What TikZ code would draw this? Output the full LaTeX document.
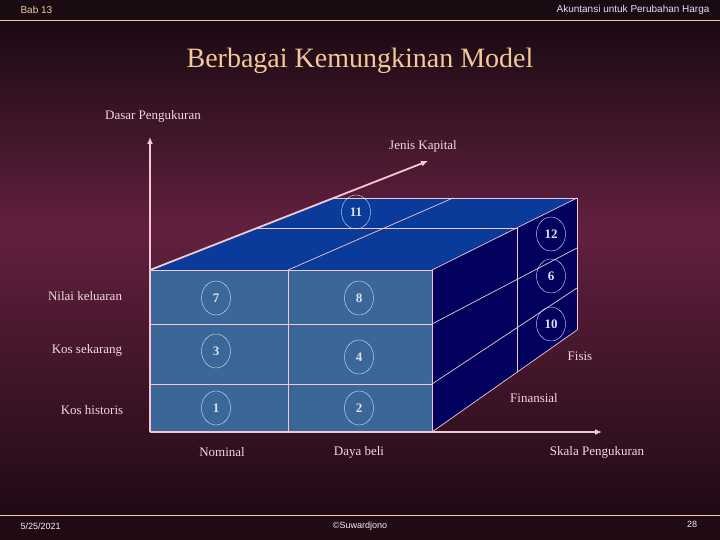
\documentclass[tikz,border=0pt]{standalone}
\usepackage{fontspec}
\setmainfont{Liberation Serif}
\newfontfamily\hdr{Liberation Sans}
\usetikzlibrary{arrows.meta,shapes.geometric}
\definecolor{bgA}{HTML}{1A0A12}
\definecolor{bgB}{HTML}{62203F}
\definecolor{bgC}{HTML}{200A14}
\definecolor{pinkline}{HTML}{F4C8D0}
\definecolor{frontc}{HTML}{3A6797}
\definecolor{topc}{HTML}{0A3A9A}
\definecolor{sidec}{HTML}{02025E}
\definecolor{orangec}{HTML}{F2C99A}
\definecolor{txt}{HTML}{F4D8DE}
\definecolor{celltxt}{HTML}{D8E2F4}
\begin{document}
\begin{tikzpicture}[x=1pt,y=-1pt,
  lab/.style={text=txt,font=\fontsize{13}{15}\selectfont,inner sep=0pt},
  num/.style={draw=celltxt,text=celltxt,ellipse,minimum width=29pt,minimum height=34pt,inner sep=0pt,font=\fontsize{13}{15}\selectfont\bfseries},
  grid/.style={draw=pinkline,line width=0.7pt},
  axis/.style={draw=pinkline,line width=1.8pt,-{Latex[length=7pt,width=6pt]}}]
\useasboundingbox (0,0) rectangle (720,540);
\fill[bgA] (0,0) rectangle (720,20);
\shade[top color=bgA,bottom color=bgB] (0,20) rectangle (720,230);
\shade[top color=bgB,bottom color=bgC] (0,230) rectangle (720,515);
\fill[bgC] (0,515) rectangle (720,540);
\draw[orangec,line width=1.5pt] (0,20.5) -- (720,20.5);
\draw[orangec,line width=1.5pt] (0,515.5) -- (720,515.5);
\node[text=orangec,font=\hdr\fontsize{10}{12}\selectfont,anchor=west] (bab) at (17,10) {Bab 13};
\node[text=white!88!blue,font=\hdr\fontsize{10}{12}\selectfont,anchor=east] (akt) at (713,10) {Akuntansi untuk Perubahan Harga};
\node[text=white!90!gray,font=\hdr\fontsize{9}{11}\selectfont,anchor=west] (date) at (17,526) {5/25/2021};
\node[text=white!90!gray,font=\hdr\fontsize{9}{11}\selectfont] (cp) at (360,526) {©Suwardjono};
\node[text=white!90!gray,font=\hdr\fontsize{9}{11}\selectfont] (pg) at (692,524) {28};
\node[text=orangec,font=\fontsize{28}{32}\selectfont] (title) at (360,61) {Berbagai Kemungkinan Model};
% cube
\fill[topc] (150,270) -- (432,270) -- (577,198) -- (334,198) -- cycle;
\fill[sidec] (432,270) -- (577,198) -- (577,330) -- (432,432) -- cycle;
\fill[frontc] (150,270) rectangle (432,432);
\draw[grid] (150,324) -- (432,324) (150,384) -- (432,384) (288,270) -- (288,432);
\draw[grid] (150,270) -- (432,270) -- (432,432);
\draw[grid] (334,198) -- (577,198) -- (577,330);
\draw[grid] (257,228) -- (517,228) -- (517,372);
\draw[grid] (288,270) -- (453,198);
\draw[grid] (432,270) -- (577,198) (432,324) -- (577,248) (432,384) -- (577,288) (432,432) -- (577,330);
% axes
\coordinate (o) at (150,432);
\coordinate (oc) at (150,270);
\coordinate (vy) at (150,137);
\coordinate (vx) at (602,432);
\coordinate (vz) at (428,161);
\draw[axis] (o) -- (vy);
\draw[axis] (oc) -- (vz);
\draw[axis] (o) -- (vx);
\node[num] (n11) at (356,212) {11};
\node[num] (n12) at (551,234) {12};
\node[num] (n6) at (551,276) {6};
\node[num] (n10) at (551,324) {10};
\node[num] (n7) at (216,298) {7};
\node[num] (n8) at (359,298) {8};
\node[num] (n3) at (216,351) {3};
\node[num] (n4) at (359,357) {4};
\node[num] (n1) at (216,408) {1};
\node[num] (n2) at (359,408) {2};
\node[lab] (dp) at (153,116) {Dasar Pengukuran};
\node[lab] (jk) at (423,146) {Jenis Kapital};
\node[lab] (nk) at (85,296) {Nilai keluaran};
\node[lab] (ks) at (87,350) {Kos sekarang};
\node[lab] (kh) at (92,410) {Kos historis};
\node[lab] (nom) at (222,452) {Nominal};
\node[lab] (db) at (359,452) {Daya beli};
\node[lab] (sp) at (597,452) {Skala Pengukuran};
\node[lab] (fis) at (580,356) {Fisis};
\node[lab] (fin) at (534,398) {Finansial};
\end{tikzpicture}
\end{document}
